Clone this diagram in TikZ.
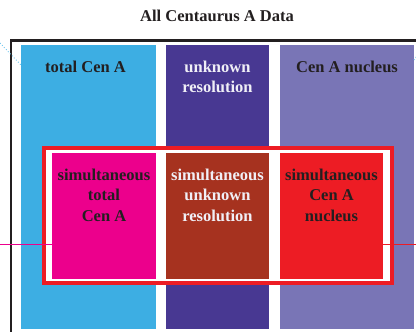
\documentclass[tikz,border=0pt]{standalone}
\usepackage{fontspec}
\setmainfont{Liberation Serif}
\definecolor{cblue}{HTML}{3DAEE3}
\definecolor{cdpurple}{HTML}{483892}
\definecolor{clpurple}{HTML}{7975B6}
\definecolor{cmagenta}{HTML}{EC008C}
\definecolor{cbrown}{HTML}{A6321F}
\definecolor{cred}{HTML}{ED1C24}
\definecolor{cdark}{HTML}{231F20}
\definecolor{clight}{HTML}{F0EFF6}
\definecolor{cdot}{HTML}{6CC5EC}
\begin{document}
\begin{tikzpicture}[x=1pt,y=-1pt,
  box/.style={draw=none,inner sep=0pt,outer sep=0pt,anchor=north west},
  lbl/.style={font=\fontsize{16.5}{20.5}\selectfont\bfseries,align=center,inner sep=0pt,anchor=base},
  dotline/.style={cdot,line width=0.9pt,dotted},
  link/.style={line width=1pt}]
\useasboundingbox (0,0) rectangle (416,332);
% title
\node[lbl,text=cdark] (title) at (217,22) {All Centaurus A Data};
% dotted connectors behind
\coordinate (dl) at (0,43);
\coordinate (dr) at (416,57);
% outer frame
\coordinate (fb) at (11,332);
\coordinate (fc) at (11,40.5);
\coordinate (fr) at (416,40.5);
\draw[cdark,line width=2.3pt] (fb) -- (fc) -- (fr);
% big boxes
\node[box,fill=cblue,minimum width=135pt,minimum height=284pt] (tot) at (21,45) {};
\node[box,fill=cdpurple,minimum width=103pt,minimum height=284pt] (unk) at (166,45) {};
\node[box,fill=clpurple,minimum width=134pt,minimum height=284pt] (nuc) at (280,45) {};
\draw[dotline] (dl) -- (tot.west |- 0,65);
\draw[dotline] (nuc.east |- 0,60) -- (dr);
\node[lbl,text=cdark] (totl) at (85.5,72) {total Cen A};
\node[lbl,text=clight] (unkl) at (217.5,92.8) {unknown\\resolution};
\node[lbl,text=cdark] (nucl) at (347,72.5) {Cen A nucleus};
% simultaneous frame
\node[box,fill=white,draw=cred,line width=3.6pt,minimum width=348.4pt,minimum height=135.4pt,outer sep=0pt] (sim) at (43.8,147.8) {};
% inner boxes
\node[box,fill=cmagenta,minimum width=104pt,minimum height=126pt] (stot) at (52,153) {};
\node[box,fill=cbrown,minimum width=103pt,minimum height=126pt] (sunk) at (166,153) {};
\node[box,fill=cred,minimum width=103pt,minimum height=126pt] (snuc) at (280,153) {};
\node[lbl,text=cdark] (stotl) at (104,221) {simultaneous\\total\\Cen A};
\node[lbl,text=clight] (sunkl) at (217.5,221) {simultaneous\\unknown\\resolution};
\node[lbl,text=cdark] (snucl) at (331.5,221) {simultaneous\\Cen A\\nucleus};
% side connectors
\coordinate (ml) at (0,244.3);
\coordinate (mr) at (416,244.3);
\draw[link,cmagenta] (ml) -- (ml -| stot.west);
\draw[link,cred] (snuc.east |- mr) -- (mr);
\end{tikzpicture}
\end{document}
